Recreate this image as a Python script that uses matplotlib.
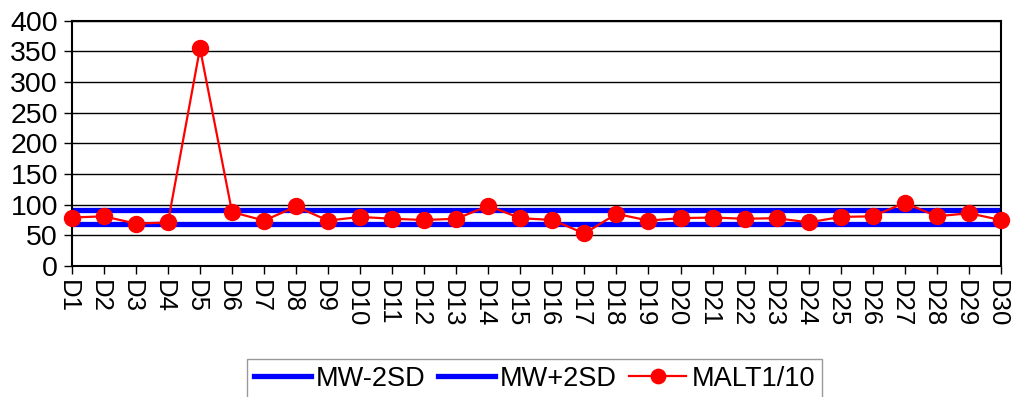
import numpy as np
import matplotlib
matplotlib.use('Agg')
import matplotlib.pyplot as plt
import matplotlib.transforms as mtransforms

plt.rcParams['font.family'] = ['Liberation Sans', 'DejaVu Sans']

days = ['D%d' % i for i in range(1, 31)]
malt = [79, 81, 69, 71, 355, 88, 74, 97, 74, 80,
        77, 75, 77, 98, 78, 75, 53, 85, 74, 78,
        79, 77, 78, 71, 80, 81, 103, 81, 86, 75]
mw_minus = [68] * 30
mw_plus = [91] * 30

fig = plt.figure(figsize=(10.12, 3.97), dpi=100)
ax = fig.add_axes([0.071, 0.33, 0.918, 0.618])

x = np.arange(len(days))
ax.plot(x, mw_minus, color='#0000ff', lw=3.8, label='MW-2SD')
ax.plot(x, mw_plus, color='#0000ff', lw=3.8, label='MW+2SD')
ax.plot(x, malt, color='#ff0000', lw=1.6, marker='o', markersize=11.5,
        label='MALT1/10', clip_on=False, zorder=3)

ax.set_xlim(0, 29)
ax.set_ylim(0, 400)
ax.set_yticks(range(0, 401, 50))
ax.set_xticks(x)
ax.set_xticklabels(days, rotation=-90, fontsize=18.5)
ax.tick_params(axis='y', labelsize=20.5, length=6, width=1, pad=4)
ax.tick_params(axis='x', length=6, width=1, pad=4)
ax.yaxis.grid(True, color='black', lw=1)
ax.set_axisbelow(True)
for s in ax.spines.values():
    s.set_linewidth(1.5)
    s.set_color('black')

# nudge the rotated day labels a little to the left
shift = mtransforms.ScaledTranslation(-3 / 72, 0, fig.dpi_scale_trans)
for lbl in ax.get_xticklabels():
    lbl.set_transform(lbl.get_transform() + shift)

leg = fig.legend(loc='upper center', bbox_to_anchor=(0.528, 0.096), ncol=3,
                 fontsize=19.5, frameon=True, fancybox=False, edgecolor='#808080',
                 handlelength=2.1, handletextpad=0.2, columnspacing=0.45,
                 borderpad=0.25, borderaxespad=0, markerscale=0.9)
leg.get_frame().set_linewidth(1)

fig.savefig('out.png', dpi=100)
